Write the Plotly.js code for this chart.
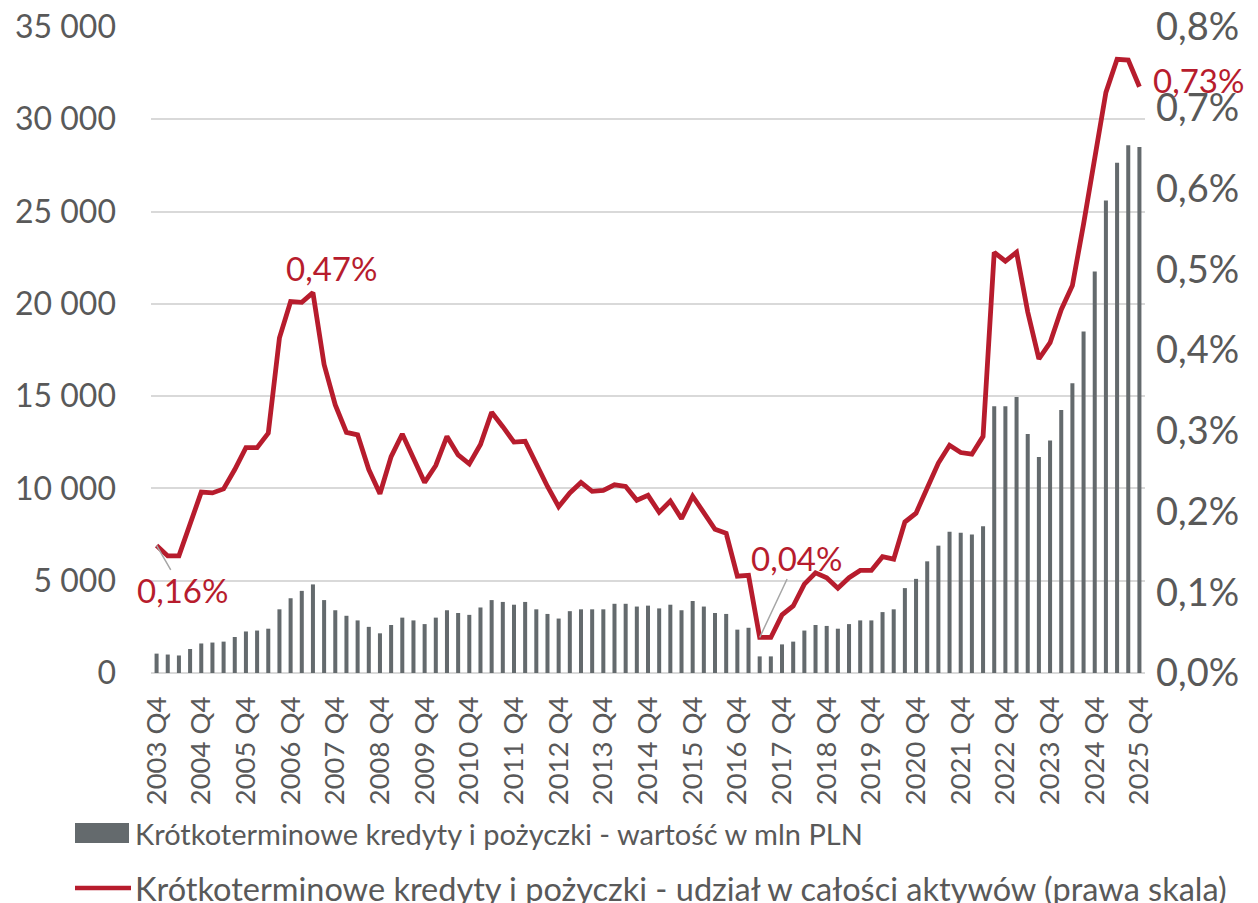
<!DOCTYPE html>
<html>
<head>
<meta charset="utf-8">
<script src="https://cdn.plot.ly/plotly-3.0.1.min.js"></script>
<style>html,body{margin:0;padding:0;background:#fff;}#chart{width:1258px;height:903px;}</style>
</head>
<body>
<div id="chart"></div>
<script>
// Quarter labels 2003 Q4 .. 2025 Q4
const startYear = 2003, startQuarter = 4, nQuarters = 89;
const quarters = [];
for (let i = 0; i < nQuarters; i++) {
  const q = (startQuarter - 1 + i) % 4 + 1;
  const y = startYear + Math.floor((startQuarter - 1 + i) / 4);
  quarters.push(y + ' Q' + q);
}
const tickLabels = quarters.filter(q => q.endsWith('Q4'));

// Short-term loans - value, mln PLN (left axis)
const loansValue = [
  1050, 1000, 950, 1300, 1600, 1650, 1700, 1950, 2250, 2300,
  2400, 3450, 4050, 4450, 4800, 3950, 3400, 3100, 2850, 2500,
  2150, 2600, 3000, 2850, 2650, 3000, 3400, 3250, 3150, 3550,
  3950, 3850, 3700, 3850, 3450, 3200, 2950, 3350, 3450, 3450,
  3450, 3750, 3750, 3600, 3650, 3500, 3700, 3400, 3900, 3600,
  3250, 3200, 2350, 2450, 900, 900, 1550, 1700, 2300, 2600,
  2550, 2400, 2650, 2850, 2850, 3300, 3450, 4600, 5100, 6050,
  6900, 7650, 7600, 7500, 7950, 14450, 14450, 14950, 12950, 11700,
  12600, 14250, 15700, 18500, 21750, 25600, 27650, 28600, 28500
];

// Short-term loans - share of total assets, % (right axis)
const loansShare = [
  0.158, 0.145, 0.145, 0.184, 0.224, 0.223, 0.228, 0.252, 0.279, 0.279,
  0.297, 0.415, 0.460, 0.459, 0.471, 0.382, 0.332, 0.298, 0.295, 0.252,
  0.222, 0.268, 0.296, 0.266, 0.236, 0.257, 0.293, 0.270, 0.259, 0.283,
  0.323, 0.305, 0.286, 0.287, 0.258, 0.231, 0.206, 0.223, 0.236, 0.225,
  0.226, 0.233, 0.231, 0.214, 0.220, 0.199, 0.213, 0.191, 0.219, 0.198,
  0.178, 0.173, 0.120, 0.121, 0.044, 0.044, 0.072, 0.083, 0.110, 0.124,
  0.118, 0.105, 0.118, 0.127, 0.127, 0.144, 0.141, 0.187, 0.198, 0.229,
  0.260, 0.282, 0.273, 0.271, 0.293, 0.521, 0.510, 0.521, 0.447, 0.389,
  0.409, 0.450, 0.480, 0.556, 0.637, 0.719, 0.760, 0.759, 0.726
];

const seriesNames = [
  'Krótkoterminowe kredyty i pożyczki - wartość w mln PLN',
  'Krótkoterminowe kredyty i pożyczki - udział w całości aktywów (prawa skala)'
];

// Labelled points: [index, text]
const labelled = [[0, '0,16%'], [14, '0,47%'], [54, '0,04%'], [88, '0,73%']];

const RED = '#B71C2D', GREY = '#646A6D', TXT = '#595959', GRID = '#D9D9D9';
const FONT = 'Lato, "Open Sans", sans-serif';

const W = 1258, H = 903, L = 151, R = 113, T = 27, B = 230;
const pw = W - L - R, ph = H - T - B;
const px2x = px => (px - L) / pw;
const px2y = py => (H - B - py) / ph;

const traces = [
  {
    type: 'bar', x: quarters, y: loansValue, name: seriesNames[0],
    marker: {color: GREY}, yaxis: 'y', showlegend: false, hoverinfo: 'x+y'
  },
  {
    type: 'scatter', mode: 'lines', x: quarters, y: loansShare, name: seriesNames[1],
    line: {color: RED, width: 4.8, shape: 'linear'}, yaxis: 'y2', showlegend: false
  }
];

const annFont = {family: FONT, size: 33, color: RED};
const annotations = [
  {x: quarters[labelled[0][0]], y: loansShare[labelled[0][0]], xref: 'x', yref: 'y2', text: labelled[0][1],
   showarrow: true, arrowhead: 0, arrowwidth: 1.5, arrowcolor: '#A6A6A6', ax: 26, ay: 45, font: annFont, borderpad: 0},
  {x: quarters[labelled[1][0]], y: loansShare[labelled[1][0]], xref: 'x', yref: 'y2', text: labelled[1][1],
   showarrow: false, xshift: 19, yshift: 25, font: annFont},
  {x: quarters[labelled[2][0]], y: loansShare[labelled[2][0]], xref: 'x', yref: 'y2', text: labelled[2][1],
   showarrow: true, arrowhead: 0, arrowwidth: 1.5, arrowcolor: '#A6A6A6', ax: 37, ay: -79, font: annFont, borderpad: 0},
  {x: quarters[labelled[3][0]], y: loansShare[labelled[3][0]], xref: 'x', yref: 'y2', text: labelled[3][1],
   showarrow: false, xanchor: 'left', xshift: 12, yshift: 7, font: annFont},
  // custom legend texts
  {xref: 'paper', yref: 'paper', x: px2x(133), y: px2y(833), xanchor: 'left', yanchor: 'middle',
   text: seriesNames[0], showarrow: false, font: {family: FONT, size: 29, color: TXT}},
  {xref: 'paper', yref: 'paper', x: px2x(133), y: px2y(889), xanchor: 'left', yanchor: 'middle',
   text: seriesNames[1], showarrow: false, font: {family: FONT, size: 32.5, color: TXT}}
];

const shapes = [
  {type: 'rect', xref: 'paper', yref: 'paper', x0: px2x(75), x1: px2x(129), y0: px2y(843), y1: px2y(823),
   fillcolor: GREY, line: {width: 0}},
  {type: 'line', xref: 'paper', yref: 'paper', x0: px2x(75), x1: px2x(131), y0: px2y(888), y1: px2y(888),
   line: {color: RED, width: 4.5}}
];

const layout = {
  width: W, height: H,
  margin: {l: L, r: R, t: T, b: B, pad: 0},
  paper_bgcolor: '#fff', plot_bgcolor: '#fff',
  separators: ', ',
  bargap: 0.64,
  showlegend: false,
  font: {family: FONT, color: TXT},
  xaxis: {
    type: 'category', range: [-0.5, nQuarters - 0.5],
    tickmode: 'array', tickvals: tickLabels, ticktext: tickLabels,
    tickangle: -90, tickfont: {family: FONT, size: 27.5, color: TXT},
    showgrid: false, zeroline: false, showline: false, ticks: '', ticklabelstandoff: 17
  },
  yaxis: {
    range: [0, 35000], tick0: 0, dtick: 5000, tickformat: ',.0f',
    tickfont: {family: FONT, size: 32, color: TXT},
    showgrid: true, gridcolor: GRID, gridwidth: 2, zeroline: true, zerolinecolor: GRID, zerolinewidth: 2,
    showline: false, ticks: '', ticklabelstandoff: 34
  },
  yaxis2: {
    overlaying: 'y', side: 'right', range: [0, 0.8], tick0: 0, dtick: 0.1,
    tickformat: '.1f', ticksuffix: '%',
    tickfont: {family: FONT, size: 38, color: TXT},
    showgrid: false, zeroline: false, showline: false, ticks: '', ticklabelstandoff: 10
  },
  annotations: annotations,
  shapes: shapes
};

Plotly.newPlot('chart', traces, layout, {displayModeBar: false, staticPlot: true});
</script>
</body>
</html>
